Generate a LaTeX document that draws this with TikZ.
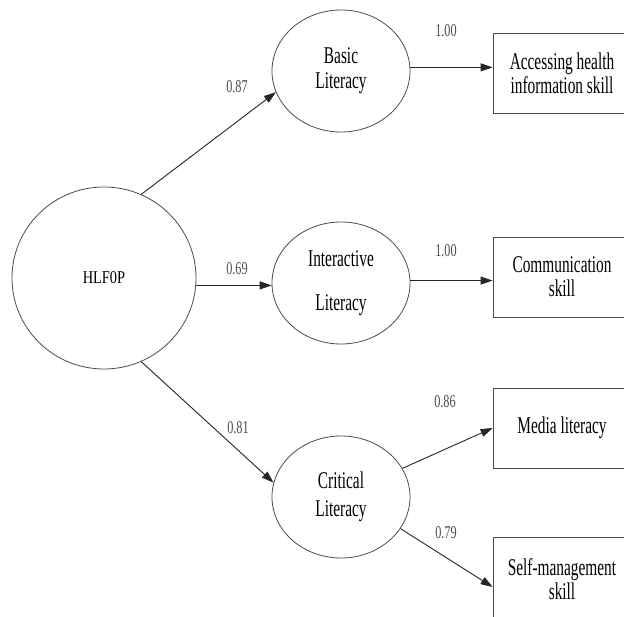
\documentclass[tikz,border=0pt]{standalone}
\usepackage{fontspec}
\setmainfont{Liberation Serif}
\newfontfamily\narrowfont[FakeStretch=0.64]{Liberation Serif}
\newfontfamily\hlffont[FakeStretch=0.8]{Liberation Serif}
\newfontfamily\numfont[FakeStretch=0.68]{Liberation Serif}
\usetikzlibrary{shapes.geometric, arrows.meta, calc}

\tikzset{
  latent/.style={draw=black!70, line width=0.8pt, ellipse, minimum width=138pt,
    minimum height=122pt, inner sep=0pt, align=center,
    font=\narrowfont\fontsize{24}{25}\selectfont},
  skill/.style={draw=black!70, line width=0.8pt, rectangle, minimum width=138pt,
    minimum height=80pt, inner sep=0pt, align=center,
    font=\narrowfont\fontsize{24}{24}\selectfont},
  load/.style={font=\numfont\fontsize{18}{18}\selectfont, text=black!70, inner sep=0pt},
  link/.style={draw=black!85, line width=0.9pt, -{Triangle[length=12pt,width=8pt]}},
}

\begin{document}
\begin{tikzpicture}[x=1pt, y=-1pt]
    \clip (0,0) rectangle (624,617);
    \fill[white] (0,0) rectangle (624,617);

    % Factor
    \node[latent, minimum width=184pt, minimum height=182pt,
      font=\hlffont\fontsize{18}{18}\selectfont] (hlf) at (104,278) {HLF0P};

    % Literacy
    \node[latent] (basic) at (341,71) {Basic\\Literacy};
    \node[latent] (inter) at (341,283) {Interactive\\[19pt]Literacy};
    \node[latent] (crit) at (341,497) {Critical\\[3pt]Literacy};

    % Skills
    \node[skill] (access) at (562,73) {Accessing health\\information\ skill};
    \node[skill] (comm) at (562,277) {Communication\\skill};
    \node[skill] (media) at (562,428) {Media literacy};
    \node[skill, minimum height=84pt] (self) at (562,579) {Self-management\\skill};

    % Paths
    \draw[link] (hlf.66) -- (basic.198);
    \draw[link] (hlf.east |- inter.182) -- (inter.182);
    \draw[link] (hlf.-66) -- (crit.168);
    \draw[link] (basic.3) -- (basic.3 -| access.west);
    \draw[link] (inter.2) -- (inter.2 -| comm.west);
    \draw[link] (crit.25) -- (media.west);
    \draw[link] (crit.-28) -- ($(self.west)+(0,8)$);

    % Loadings
    \node[load] (l87) at (237,87) {0.87};
    \node[load] (l69) at (237,269) {0.69};
    \node[load] (l81) at (238,428) {0.81};
    \node[load] (la100) at (446,31) {1.00};
    \node[load] (lb100) at (446,251) {1.00};
    \node[load] (l86) at (445,402) {0.86};
    \node[load] (l79) at (446,533) {0.79};
\end{tikzpicture}
\end{document}
